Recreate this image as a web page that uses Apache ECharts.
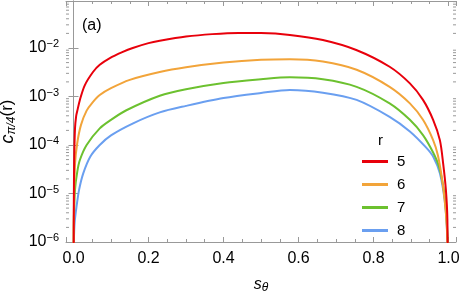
<!DOCTYPE html>
<html>
<head>
<meta charset="utf-8">
<script src="https://cdn.jsdelivr.net/npm/echarts@6/dist/echarts.min.js"></script>
<style>
html,body{margin:0;padding:0;background:#fff;}
#c{width:463px;height:294px;}
</style>
</head>
<body>
<div id="c"></div>
<script>
// ---- data ----
const seriesNames = ['5', '6', '7', '8'];
const xTickLabels = ['0.0', '0.2', '0.4', '0.6', '0.8', '1.0'];
const yTickExponents = [-6, -5, -4, -3, -2];

const r5S = [0, 0.0005, 0.001, 0.002, 0.004, 0.007, 0.01, 0.017, 0.03, 0.052, 0.07, 0.097, 0.13, 0.158, 0.2, 0.23, 0.3, 0.37, 0.44, 0.5, 0.577, 0.665, 0.754, 0.843, 0.897, 0.932, 0.959, 0.977, 0.986, 0.993, 0.997, 1.0];
const r5C = [1e-8, 1e-6, 1e-5, 6e-5, 2.2e-4, 3.9e-4, 5e-4, 8.5e-4, 1.7e-3, 3.2e-3, 4.5e-3, 6.2e-3, 8.2e-3, 0.010, 0.0126, 0.0141, 0.0172, 0.0193, 0.0204, 0.0203, 0.0186, 0.0146, 0.0091, 0.0041, 0.00186, 8.5e-4, 3.3e-4, 1.26e-4, 4e-5, 1.2e-5, 3e-6, 1e-8];

const r6S = [0, 0.0005, 0.001, 0.004, 0.01, 0.02, 0.035, 0.05, 0.07, 0.1, 0.15, 0.23, 0.3, 0.4, 0.5, 0.577, 0.665, 0.755, 0.843, 0.897, 0.932, 0.959, 0.972, 0.985, 0.993, 0.997, 1.0];
const r6C = [1e-8, 1e-6, 4e-6, 4e-5, 1.1e-4, 2.6e-4, 5.1e-4, 7.4e-4, 1.07e-3, 1.48e-3, 2.2e-3, 3.2e-3, 4.0e-3, 5.0e-3, 5.7e-3, 5.85e-3, 5.25e-3, 3.55e-3, 1.58e-3, 7.2e-4, 3.3e-4, 1.26e-4, 6e-5, 1.5e-5, 4e-6, 1e-6, 1e-8];

const r7S = [0, 0.0005, 0.001, 0.004, 0.01, 0.017, 0.035, 0.07, 0.1, 0.141, 0.23, 0.3, 0.4, 0.5, 0.577, 0.665, 0.755, 0.843, 0.897, 0.932, 0.959, 0.975, 0.988, 0.995, 0.999, 1.0];
const r7C = [1e-8, 1e-6, 3e-6, 1.2e-5, 2.8e-5, 4.9e-5, 1e-4, 2.2e-4, 3.3e-4, 5.2e-4, 1.035e-3, 1.41e-3, 1.9e-3, 2.26e-3, 2.48e-3, 2.26e-3, 1.58e-3, 7.2e-4, 3.3e-4, 1.6e-4, 7e-5, 3.5e-5, 1.1e-5, 3e-6, 5e-7, 1e-8];

const r8S = [0, 0.0005, 0.001, 0.003, 0.008, 0.015, 0.026, 0.045, 0.07, 0.1, 0.159, 0.23, 0.3, 0.4, 0.5, 0.577, 0.665, 0.755, 0.843, 0.897, 0.94, 0.96, 0.977, 0.99, 0.996, 0.999, 1.0];
const r8C = [1e-8, 3e-7, 1e-6, 2.5e-6, 5.3e-6, 1.2e-5, 2.6e-5, 5.8e-5, 1e-4, 1.58e-4, 2.8e-4, 4.7e-4, 6.4e-4, 9.3e-4, 1.18e-3, 1.36e-3, 1.2e-3, 8.5e-4, 3.8e-4, 1.9e-4, 8.9e-5, 5.6e-5, 2.6e-5, 7e-6, 1.8e-6, 3e-7, 1e-8];

// ---- styling ----
const colors = ['#e8000b', '#f2a43a', '#6cc12f', '#6a9ff0'];
const X_MIN = -0.02, X_MAX = 1.02, Y_MIN = 1e-6, Y_MAX = 0.093;
const axisGray = '#999999';
const FONT = 'Liberation Sans, Arial, sans-serif';

const allS = [r5S, r6S, r7S, r8S];
const allC = [r5C, r6C, r7C, r8C];

const minorY = [];
for (const e of yTickExponents.concat([-1])) {
  for (let m = 2; m <= 9; m++) {
    const v = m * Math.pow(10, e);
    if (v < Y_MAX) minorY.push([X_MIN, v]);
  }
}

const chart = echarts.init(document.getElementById('c'), null, {renderer: 'canvas'});

function yLabel(v) {
  const e = Math.log10(v);
  const r = Math.round(e);
  if (Math.abs(e - r) > 1e-6 || yTickExponents.indexOf(r) < 0) return '';
  return '{b|10}{s|\u2212' + (-r) + '}';
}
function xLabel(v) {
  if (Math.abs(v * 5 - Math.round(v * 5)) > 1e-6) return '';
  const t = (Math.round(v * 10) / 10).toFixed(1);
  return xTickLabels.indexOf(t) >= 0 ? t : '';
}

const baseX = {
  type: 'value', min: X_MIN, max: X_MAX, splitNumber: 5,
  axisLine: {show: true, lineStyle: {color: axisGray, width: 1}},
  axisTick: {show: true, inside: true, length: 5, lineStyle: {color: axisGray}},
  minorTick: {show: true, splitNumber: 4, length: 3, lineStyle: {color: axisGray}},
  splitLine: {show: false}
};
const baseY = {
  type: 'log', logBase: 10, min: Y_MIN, max: Y_MAX, interval: 1,
  axisLine: {show: true, lineStyle: {color: axisGray, width: 1}},
  axisTick: {show: true, inside: true, length: 5, lineStyle: {color: axisGray}},
  minorTick: {show: false},
  splitLine: {show: false}
};

const series = seriesNames.map((n, i) => ({
  name: n,
  type: 'line',
  data: allS[i].map((s, j) => [s, allC[i][j]]),
  showSymbol: false,
  symbol: 'none',
  smooth: 0.3,
  clip: true,
  lineStyle: {color: colors[i], width: 2},
  itemStyle: {color: colors[i]},
  z: 10 - i
}));

series.push({
  type: 'custom',
  silent: true,
  data: minorY,
  encode: {x: 0, y: 1},
  clip: false,
  renderItem: function (params, api) {
    const v = api.value(1);
    const pL = api.coord([X_MIN, v]);
    const pR = api.coord([X_MAX, v]);
    return {
      type: 'group',
      children: [
        {type: 'line', shape: {x1: pL[0], y1: pL[1], x2: pL[0] + 3, y2: pL[1]}, style: {stroke: axisGray, lineWidth: 1}},
        {type: 'line', shape: {x1: pR[0], y1: pR[1], x2: pR[0] - 3, y2: pR[1]}, style: {stroke: axisGray, lineWidth: 1}}
      ]
    };
  },
  z: 1
});

chart.setOption({
  animation: false,
  backgroundColor: '#ffffff',
  textStyle: {fontFamily: FONT},
  grid: {left: 66, right: 7, top: 1, bottom: 52, containLabel: false, outerBoundsMode: 'none'},
  title: {
    text: 'r', left: 373, top: 128,
    textStyle: {fontFamily: FONT, fontSize: 15, fontWeight: 'normal', color: '#000'}
  },
  graphic: [{
    type: 'text', left: 82, top: 18,
    style: {text: '(a)', font: '16px ' + FONT, fill: '#000'}
  }],
  legend: {
    data: seriesNames,
    orient: 'vertical',
    left: 357, top: 149,
    itemWidth: 26, itemHeight: 14, itemGap: 8,
    icon: 'path://M0,0 L26,0 L26,3 L0,3 Z',
    textStyle: {fontFamily: FONT, fontSize: 15, color: '#000', padding: [0, 0, 0, 4]}
  },
  xAxis: [
    Object.assign({}, baseX, {
      position: 'bottom',
      axisLabel: {show: true, formatter: xLabel, color: '#000', fontSize: 16, fontFamily: FONT, margin: 9, showMinLabel: true, showMaxLabel: true},
      name: '{s|s}{t|\u03b8}',
      nameLocation: 'middle',
      nameGap: 33,
      nameTextStyle: {rich: {
        s: {fontFamily: FONT, fontSize: 16, fontStyle: 'italic', color: '#000'},
        t: {fontFamily: FONT, fontSize: 12, fontStyle: 'italic', color: '#000', padding: [7, 0, 0, 0]}
      }}
    }),
    Object.assign({}, baseX, {position: 'top', axisLabel: {show: false}})
  ],
  yAxis: [
    Object.assign({}, baseY, {
      position: 'left',
      axisLabel: {
        show: true, formatter: yLabel, margin: 7,
        rich: {
          b: {fontFamily: FONT, fontSize: 16, color: '#000'},
          s: {fontFamily: FONT, fontSize: 11, color: '#000', padding: [0, 0, 8, 0]}
        }
      },
      name: '{c|c}{p|\u03c0/4}{n|(r)}',
      nameLocation: 'middle',
      nameGap: 42,
      nameRotate: 90,
      nameTextStyle: {rich: {
        c: {fontFamily: FONT, fontSize: 18, fontStyle: 'italic', color: '#000'},
        p: {fontFamily: FONT, fontSize: 12, fontStyle: 'italic', color: '#000', padding: [8, 0, 0, 0]},
        n: {fontFamily: FONT, fontSize: 17, color: '#000'}
      }}
    }),
    Object.assign({}, baseY, {position: 'right', axisLabel: {show: false}})
  ],
  series: series
});
</script>
</body>
</html>
